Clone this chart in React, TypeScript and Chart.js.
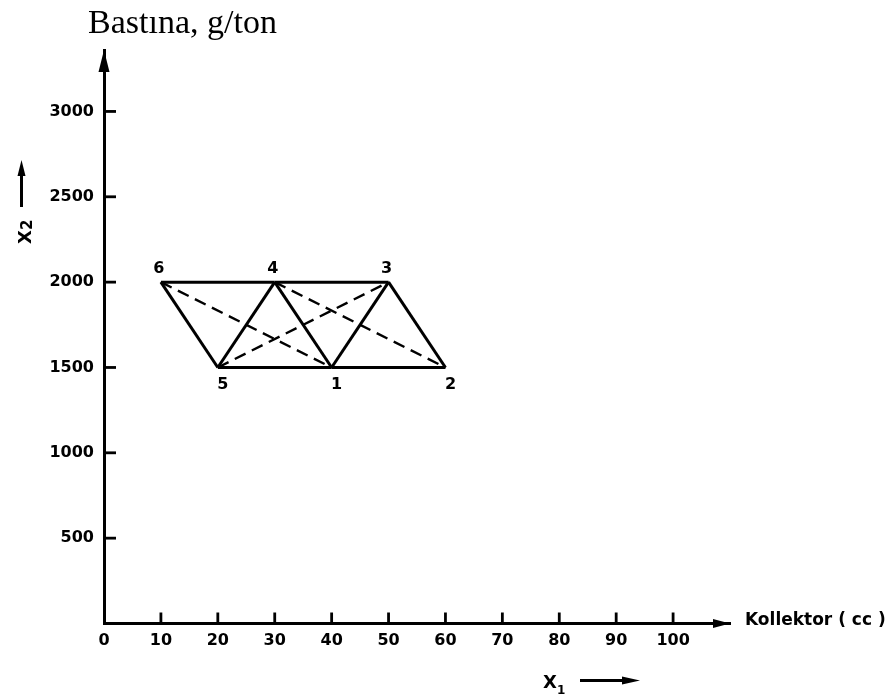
import React, { useEffect, useRef } from 'react';
import { Chart, registerables } from 'chart.js';

Chart.register(...registerables);

// ---- data ----
const pointNames = ['1', '2', '3', '4', '5', '6'];
const kollektorCc = [40, 60, 50, 30, 20, 10];
const bastinaGTon = [1500, 1500, 2000, 2000, 1500, 2000];
const solidEdges: [string, string][] = [
  ['6', '4'], ['4', '3'], ['5', '1'], ['1', '2'],
  ['6', '5'], ['5', '4'], ['4', '1'], ['1', '3'], ['3', '2'],
];
const dashedEdges: [string, string][] = [['6', '1'], ['5', '3'], ['4', '2']];
const xTickValues = [0, 10, 20, 30, 40, 50, 60, 70, 80, 90, 100];
const yTickValues = [500, 1000, 1500, 2000, 2500, 3000];
const xRange = [0, 110];
const yRange = [0, 3360];
const titleText = 'Bastına, g/ton';
const xAxisText = 'Kollektor ( cc )';

function pt(name: string) {
  const i = pointNames.indexOf(name);
  return { x: kollektorCc[i], y: bastinaGTon[i] };
}

function arrowHead(ctx: CanvasRenderingContext2D, tipX: number, tipY: number, dir: 'up' | 'right', len: number, half: number) {
  ctx.beginPath();
  if (dir === 'up') {
    ctx.moveTo(tipX, tipY);
    ctx.lineTo(tipX - half, tipY + len);
    ctx.lineTo(tipX + half, tipY + len);
  } else {
    ctx.moveTo(tipX, tipY);
    ctx.lineTo(tipX - len, tipY - half);
    ctx.lineTo(tipX - len, tipY + half);
  }
  ctx.closePath();
  ctx.fill();
}

const decorPlugin = {
  id: 'decor',
  afterDraw(chart: any) {
    const ctx: CanvasRenderingContext2D = chart.ctx;
    const xs = chart.scales.x;
    const ys = chart.scales.y;
    const x0 = xs.getPixelForValue(0);
    const y0 = ys.getPixelForValue(0);
    const topY = ys.getPixelForValue(yRange[1]);
    const rightX = xs.getPixelForValue(xRange[1]);
    ctx.save();
    ctx.strokeStyle = '#000';
    ctx.fillStyle = '#000';
    ctx.lineCap = 'butt';

    // inward tick marks
    ctx.lineWidth = 2.8;
    yTickValues.forEach((v) => {
      const py = ys.getPixelForValue(v);
      ctx.beginPath();
      ctx.moveTo(x0, py);
      ctx.lineTo(x0 + 12, py);
      ctx.stroke();
    });
    xTickValues.forEach((v) => {
      if (v === 0) return;
      const px = xs.getPixelForValue(v);
      ctx.beginPath();
      ctx.moveTo(px, y0);
      ctx.lineTo(px, y0 - 11);
      ctx.stroke();
    });

    // axis arrows
    arrowHead(ctx, x0, topY, 'up', 22, 5.5);
    arrowHead(ctx, rightX, y0, 'right', 17, 4.5);

    // point labels
    ctx.font = 'bold 16px "DejaVu Sans"';
    ctx.textAlign = 'center';
    ctx.textBaseline = 'middle';
    const topRow = Math.max(...bastinaGTon);
    pointNames.forEach((n, i) => {
      const px = xs.getPixelForValue(kollektorCc[i]);
      const py = ys.getPixelForValue(bastinaGTon[i]);
      if (bastinaGTon[i] === topRow) {
        ctx.fillText(n, px - 2, py - 13);
      } else {
        ctx.fillText(n, px + 5, py + 17);
      }
    });

    // title
    ctx.font = '34px "Liberation Serif"';
    ctx.textAlign = 'left';
    ctx.textBaseline = 'alphabetic';
    ctx.fillText(titleText, 88, 33);

    // x axis name
    ctx.font = 'bold 17px "DejaVu Sans"';
    ctx.textBaseline = 'middle';
    ctx.fillText(xAxisText, 745, 621);

    // X1 label with arrow
    ctx.font = 'bold 18px "DejaVu Sans"';
    ctx.textBaseline = 'alphabetic';
    ctx.fillText('X', 543, 688);
    ctx.font = 'bold 12px "DejaVu Sans"';
    ctx.fillText('1', 557, 694);
    ctx.lineWidth = 3;
    ctx.beginPath();
    ctx.moveTo(580, 680.5);
    ctx.lineTo(625, 680.5);
    ctx.stroke();
    arrowHead(ctx, 640, 680.5, 'right', 18, 4);

    // X2 label (rotated) with arrow
    ctx.save();
    ctx.translate(31, 244);
    ctx.rotate(-Math.PI / 2);
    ctx.font = 'bold 18px "DejaVu Sans"';
    ctx.textBaseline = 'alphabetic';
    ctx.fillText('X', 0, 0);
    ctx.font = 'bold 15px "DejaVu Sans"';
    ctx.fillText('2', 14, 1);
    ctx.restore();
    ctx.lineWidth = 3;
    ctx.beginPath();
    ctx.moveTo(21.5, 207);
    ctx.lineTo(21.5, 172);
    ctx.stroke();
    arrowHead(ctx, 21.5, 160, 'up', 16, 4);

    ctx.restore();
  },
};

export default function App() {
  const ref = useRef<HTMLCanvasElement | null>(null);
  useEffect(() => {
    if (!ref.current) return;
    const mk = (edges: [string, string][], dashed: boolean) =>
      edges.map(([a, b]) => ({
        label: `${a}-${b}`,
        data: [pt(a), pt(b)],
        showLine: true,
        borderColor: '#000',
        backgroundColor: '#000',
        borderWidth: dashed ? 2.4 : 3,
        borderDash: dashed ? [12, 7] : [],
        pointRadius: 0,
        fill: false,
        tension: 0,
      }));
    const tickFont = { family: 'DejaVu Sans', weight: 'bold', size: 16 };
    const chart = new Chart(ref.current, {
      type: 'scatter',
      data: { datasets: [...mk(solidEdges, false), ...mk(dashedEdges, true)] as any },
      options: {
        responsive: false,
        animation: false,
        layout: { padding: { left: 0, top: 50, right: 165, bottom: 0 } },
        plugins: { legend: { display: false }, tooltip: { enabled: false }, title: { display: false } },
        scales: {
          x: {
            type: 'linear',
            min: xRange[0],
            max: xRange[1],
            afterFit: (s: any) => { s.height = 75.5; },
            afterBuildTicks: (s: any) => { s.ticks = xTickValues.map((v) => ({ value: v })); },
            grid: { display: true, drawOnChartArea: false, drawTicks: false },
            border: { display: true, color: '#000', width: 3 },
            ticks: { color: '#000', font: tickFont, padding: 8, maxRotation: 0, autoSkip: false, callback: (v: any) => String(v) },
          },
          y: {
            type: 'linear',
            min: yRange[0],
            max: yRange[1],
            afterFit: (s: any) => { s.width = 104; },
            afterBuildTicks: (s: any) => { s.ticks = yTickValues.map((v) => ({ value: v })); },
            grid: { display: true, drawOnChartArea: false, drawTicks: false },
            border: { display: true, color: '#000', width: 3 },
            ticks: { color: '#000', font: tickFont, padding: 10, autoSkip: false, callback: (v: any) => String(v) },
          },
        },
      } as any,
      plugins: [decorPlugin],
    });
    return () => chart.destroy();
  }, []);
  return (
    <div style={{ position: 'fixed', left: 0, top: 0, width: 895, height: 699, background: '#fff' }}>
      <canvas ref={ref} width={895} height={699} />
    </div>
  );
}
